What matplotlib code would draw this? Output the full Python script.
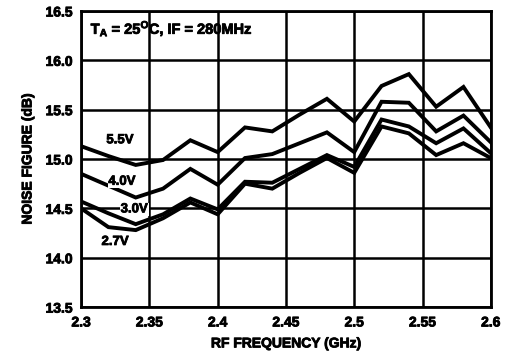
import numpy as np
import matplotlib
matplotlib.use("Agg")
import matplotlib.pyplot as plt
import matplotlib.patheffects as pe

plt.rcParams['font.family'] = ['Liberation Sans', 'DejaVu Sans']
plt.rcParams['font.weight'] = 'bold'
plt.rcParams['mathtext.fontset'] = 'custom'
plt.rcParams['mathtext.bf'] = 'Liberation Sans:bold'
plt.rcParams['mathtext.rm'] = 'Liberation Sans:bold'

freq = [2.30, 2.32, 2.34, 2.36, 2.38, 2.40, 2.42, 2.44, 2.46, 2.48, 2.50, 2.52, 2.54, 2.56, 2.58, 2.60]
nf_55 = [15.13, 15.03, 14.94, 14.99, 15.19, 15.07, 15.32, 15.28, 15.45, 15.61, 15.38, 15.74, 15.86, 15.53, 15.73, 15.32]
nf_40 = [14.85, 14.73, 14.61, 14.70, 14.90, 14.74, 15.01, 15.05, 15.16, 15.27, 15.07, 15.58, 15.57, 15.28, 15.44, 15.17]
nf_30 = [14.57, 14.45, 14.34, 14.44, 14.60, 14.49, 14.77, 14.76, 14.90, 15.04, 14.92, 15.40, 15.33, 15.16, 15.31, 15.06]
nf_27 = [14.50, 14.31, 14.28, 14.40, 14.56, 14.44, 14.75, 14.70, 14.86, 15.01, 14.86, 15.33, 15.26, 15.04, 15.16, 15.01]

xticks = [2.3, 2.35, 2.4, 2.45, 2.5, 2.55, 2.6]
xticklabels = ["2.3", "2.35", "2.4", "2.45", "2.5", "2.55", "2.6"]
yticks = [13.5, 14.0, 14.5, 15.0, 15.5, 16.0, 16.5]

heavy = [pe.withStroke(linewidth=0.6, foreground='black')]

fig = plt.figure(figsize=(5.07, 3.53), dpi=100)
ax = fig.add_axes([0.16, 0.13, 0.808, 0.839])

for nf in [nf_55, nf_40, nf_30, nf_27]:
    ax.plot(freq, nf, color='black', lw=2.8, solid_joinstyle='miter', zorder=3)

ax.set_xlim(2.3, 2.6)
ax.set_ylim(13.5, 16.5)
ax.set_xticks(xticks)
ax.set_xticklabels(xticklabels)
ax.set_yticks(yticks)
ax.set_yticklabels(["%.1f" % v for v in yticks])
ax.grid(True, color='black', lw=1.8)
ax.tick_params(length=0, labelsize=10, pad=6)
for s in ax.spines.values():
    s.set_linewidth(2.0)

ax.set_xlabel("RF FREQUENCY (GHz)", fontsize=10, fontweight='bold', labelpad=5)
ax.set_ylabel("NOISE FIGURE (dB)", fontsize=10, fontweight='bold', labelpad=8)

ax.text(2.307, 16.32, r"T$_{\bf A}$ = 25$^{\bf O}$C, IF = 280MHz", fontsize=10.5,
        fontweight='bold', va='center', ha='left', path_effects=heavy)
box = dict(facecolor='white', edgecolor='none', pad=0.5)
ax.text(2.3285, 15.19, "5.5V", fontsize=9.5, ha='center', va='center', bbox=box, zorder=4, path_effects=heavy)
ax.text(2.330, 14.77, "4.0V", fontsize=9.5, ha='center', va='center', bbox=box, zorder=4, path_effects=heavy)
ax.text(2.339, 14.49, "3.0V", fontsize=9.5, ha='center', va='center', bbox=box, zorder=4, path_effects=heavy)
ax.text(2.325, 14.16, "2.7V", fontsize=9.5, ha='center', va='center', bbox=box, zorder=4, path_effects=heavy)

for lab in ax.get_xticklabels() + ax.get_yticklabels():
    lab.set_path_effects(heavy)
ax.xaxis.label.set_path_effects(heavy)
ax.yaxis.label.set_path_effects(heavy)

fig.savefig("out.png", dpi=100)
